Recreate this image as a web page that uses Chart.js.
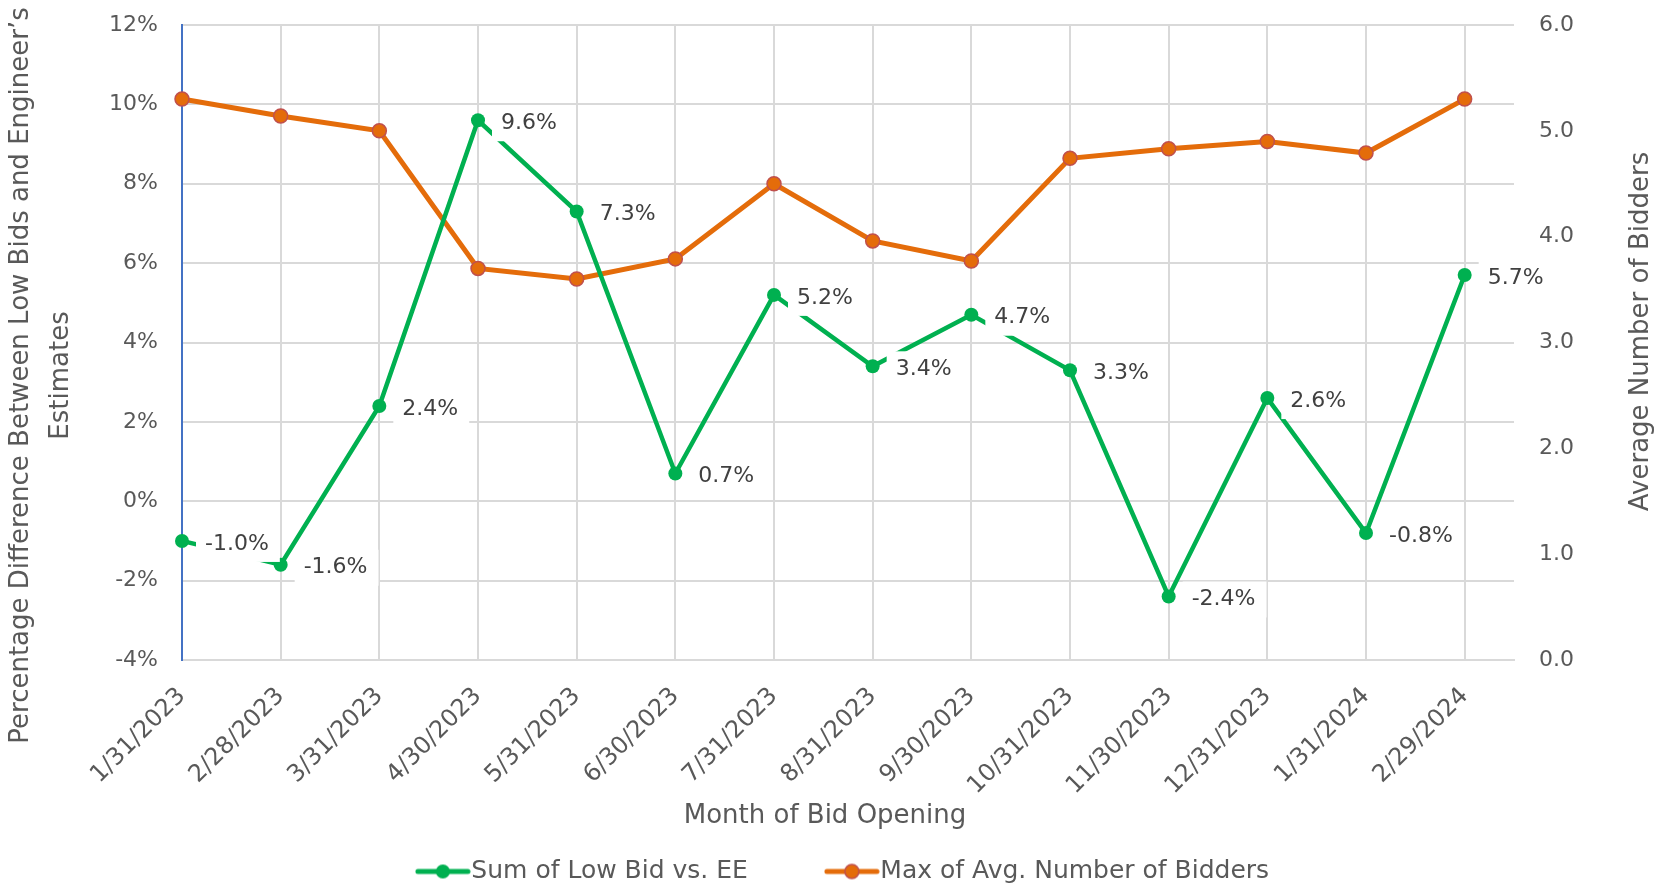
<!DOCTYPE html>
<html>
<head>
  <meta charset="UTF-8" />
  <title>Low Bid vs. EE</title>
  <script src="https://cdn.jsdelivr.net/npm/chart.js"></script>
  <style>
    html, body {
      margin: 0;
      padding: 0;
      background: #fff;
    }

    #wrap {
      width: 1665px;
      height: 884px;
    }
  </style>
</head>
<body>
  <div id="wrap"><canvas id="chart"></canvas></div>

  <script>
    const months = ['1/31/2023', '2/28/2023', '3/31/2023', '4/30/2023', '5/31/2023', '6/30/2023', '7/31/2023',
      '8/31/2023', '9/30/2023', '10/31/2023', '11/30/2023', '12/31/2023', '1/31/2024', '2/29/2024'];
    const lowBidVsEE = [-1.0, -1.6, 2.4, 9.6, 7.3, 0.7, 5.2, 3.4, 4.7, 3.3, -2.4, 2.6, -0.8, 5.7];
    const avgBidders = [5.30, 5.14, 5.00, 3.70, 3.60, 3.79, 4.50, 3.96, 3.77, 4.74, 4.83, 4.90, 4.79, 5.30];

    const FONT = '"DejaVu Sans", sans-serif';
    const TEXT = '#595959';
    const GRID = '#D9D9D9';
    const GREEN = '#00B050';
    const ORANGE = '#E46C0A';
    const ORANGE_EDGE = '#C0504D';
    const NONE = 'rgba(0,0,0,0)';

    Chart.defaults.font.family = FONT;

    // small line + marker pictures for the legend
    function legendIcon(color, edge) {
      const c = document.createElement('canvas');
      c.width = 56;
      c.height = 20;
      const g = c.getContext('2d');
      g.strokeStyle = color;
      g.lineWidth = 5;
      g.lineCap = 'round';
      g.beginPath();
      g.moveTo(3, 10);
      g.lineTo(53, 10);
      g.stroke();
      g.beginPath();
      g.arc(28, 10, 7, 0, Math.PI * 2);
      g.fillStyle = color;
      g.fill();
      if (edge) {
        g.lineWidth = 1.5;
        g.strokeStyle = edge;
        g.stroke();
      }
      return c;
    }
    const icons = [legendIcon(GREEN), legendIcon(ORANGE, ORANGE_EDGE)];

    // white boxed value labels to the right of the green points
    const valueLabels = {
      id: 'valueLabels',
      afterDatasetsDraw(chart) {
        const ctx = chart.ctx;
        const meta = chart.getDatasetMeta(0);
        ctx.save();
        ctx.font = '22px ' + FONT;
        ctx.textBaseline = 'middle';
        meta.data.forEach((pt, i) => {
          const text = lowBidVsEE[i].toFixed(1) + '%';
          const w = ctx.measureText(text).width;
          ctx.fillStyle = '#fff';
          ctx.fillRect(pt.x + 14, pt.y - 15, w + 20, 36);
          ctx.fillStyle = '#404040';
          ctx.fillText(text, pt.x + 23, pt.y + 3);
        });
        ctx.restore();
      }
    };

    // axis titles (both side titles read bottom-to-top)
    const axisTitles = {
      id: 'axisTitles',
      afterDraw(chart) {
        const ctx = chart.ctx;
        const a = chart.chartArea;
        const mid = (a.top + a.bottom) / 2;
        ctx.save();
        ctx.font = '26px ' + FONT;
        ctx.fillStyle = TEXT;
        ctx.textAlign = 'center';
        ctx.textBaseline = 'middle';

        ctx.save();
        ctx.translate(chart.scales.y.left + 21, mid + 33);
        ctx.rotate(-Math.PI / 2);
        ctx.fillText('Percentage Difference Between Low Bids and Engineer\u2019s', 0, 0);
        ctx.fillText('Estimates', 0, 40);
        ctx.restore();

        ctx.save();
        ctx.translate(chart.scales.y1.right - 24, mid - 11);
        ctx.rotate(-Math.PI / 2);
        ctx.fillText('Average Number of Bidders', 0, 0);
        ctx.restore();

        ctx.fillText('Month of Bid Opening', (a.left + a.right) / 2 - 23, a.bottom + 156);
        ctx.restore();
      }
    };

    const ctx = document.getElementById('chart').getContext('2d');
    new Chart(ctx, {
      type: 'line',
      data: {
        datasets: [{
          label: 'Sum of Low Bid vs. EE',
          data: lowBidVsEE.map((v, i) => ({ x: i, y: v })),
          yAxisID: 'y',
          borderColor: GREEN,
          backgroundColor: GREEN,
          borderWidth: 4.5,
          pointRadius: 7,
          pointBorderWidth: 0,
          pointBackgroundColor: GREEN,
          clip: false
        }, {
          label: 'Max of Avg. Number of Bidders',
          data: avgBidders.map((v, i) => ({ x: i, y: v })),
          yAxisID: 'y1',
          borderColor: ORANGE,
          backgroundColor: ORANGE,
          borderWidth: 5,
          pointRadius: 7,
          pointBorderWidth: 1.5,
          pointBackgroundColor: ORANGE,
          pointBorderColor: ORANGE_EDGE,
          clip: false
        }]
      },
      options: {
        responsive: true,
        maintainAspectRatio: false,
        animation: false,
        layout: { padding: { top: 25, bottom: -10 } },
        plugins: {
          tooltip: { enabled: false },
          legend: {
            position: 'bottom',
            fullSize: false,
            labels: {
              usePointStyle: true,
              pointStyleWidth: 32,
              padding: 13,
              color: TEXT,
              font: { size: 25 },
              generateLabels(chart) {
                const items = Chart.defaults.plugins.legend.labels.generateLabels(chart);
                items.forEach(it => {
                  it.pointStyle = icons[it.datasetIndex];
                  it.rotation = 0;
                  // room between the two entries
                  if (it.datasetIndex === 0) it.text += '\u2003\u2003\u2003';
                });
                return items;
              }
            }
          }
        },
        scales: {
          x: {
            type: 'linear',
            min: 0,
            max: months.length - 0.5,
            afterBuildTicks(scale) {
              scale.ticks = scale.ticks.filter(t => Number.isInteger(t.value));
            },
            afterFit(scale) {
              scale.height = 186;
            },
            ticks: {
              stepSize: 1,
              autoSkip: false,
              minRotation: 45,
              maxRotation: 45,
              padding: 22,
              color: TEXT,
              font: { size: 24 },
              callback: v => months[v]
            },
            grid: { color: GRID, lineWidth: 2, drawTicks: false },
            border: { color: GRID, width: 2 }
          },
          y: {
            position: 'left',
            min: -4,
            max: 12,
            afterFit(scale) {
              scale.width = 182;
            },
            ticks: {
              stepSize: 2,
              padding: 0,
              color: TEXT,
              font: { size: 22 },
              callback: v => v + '%'
            },
            grid: { color: GRID, lineWidth: 2, drawTicks: true, tickLength: 24, tickColor: NONE },
            border: { color: '#4472C4', width: 2 }
          },
          y1: {
            position: 'right',
            min: 0,
            max: 6,
            afterFit(scale) {
              scale.width = 151;
            },
            ticks: {
              stepSize: 1,
              padding: 0,
              color: TEXT,
              font: { size: 22 },
              callback: v => v.toFixed(1)
            },
            grid: { drawOnChartArea: false, drawTicks: true, tickLength: 25, tickColor: NONE },
            border: { display: false }
          }
        }
      },
      plugins: [valueLabels, axisTitles]
    });
  </script>
</body>
</html>
